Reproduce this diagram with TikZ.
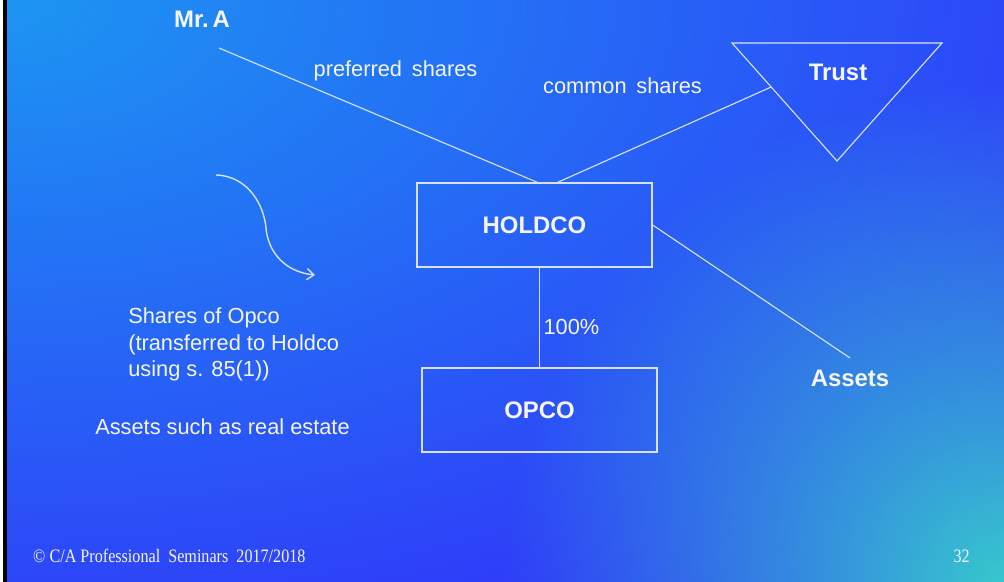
\documentclass[tikz,border=0pt]{standalone}
\usepackage{fontspec}
\setmainfont{Liberation Sans}
\newfontfamily\footfont{Liberation Serif}
\usetikzlibrary{arrows.meta,calc,fadings}

\definecolor{slideblue}{RGB}{50,46,250}
\definecolor{skyblue}{RGB}{28,150,242}
\definecolor{tealspot}{RGB}{55,200,205}
\definecolor{linewhite}{RGB}{215,225,255}
\definecolor{textwhite}{RGB}{245,245,255}

\tikzfading[name=spotfade, inner color=transparent!0, outer color=transparent!100]

\tikzset{
  entity/.style={draw=linewhite, line width=0.8pt, minimum width=5.875cm, minimum height=2.1cm,
    font=\bfseries\fontsize{17}{20}\selectfont, text=textwhite},
  party/.style={font=\bfseries\fontsize{17}{20}\selectfont, text=textwhite, inner sep=0pt},
  caption/.style={font=\fontsize{15.5}{19}\selectfont, text=textwhite, inner sep=0pt},
  footer/.style={font=\footfont\fontsize{13.5}{16}\selectfont, text=textwhite, inner sep=0pt},
  link/.style={draw=linewhite, line width=0.8pt},
}

\begin{document}
\begin{tikzpicture}[x=0.025cm, y=-0.025cm]
  % background
  \fill[slideblue] (0,0) rectangle (1004,582);
  \begin{scope}
    \clip (0,0) rectangle (1004,582);
    \shade[inner color=skyblue, outer color=slideblue] (0,0) ellipse (1350 and 760);
    \fill[tealspot, path fading=spotfade] (1004,582) circle (500);
  \end{scope}
  \fill[white] (0,0) rectangle (2.5,582);
  \fill[black] (2.5,0) rectangle (6.5,582);
  \useasboundingbox (0,0) rectangle (1004,582);

  % parties
  \node[party] (mra) at (202,19) {Mr.\,A};
  \coordinate (mrafoot) at (219,48);

  \coordinate (trustleft) at (732,43);
  \coordinate (trustright) at (942,43);
  \coordinate (trustapex) at (837,161);
  \draw[link] (trustleft) -- (trustright) -- (trustapex) -- cycle;
  \node[party, anchor=base] (trust) at (838,81) {Trust};

  \node[party, anchor=base] (assets) at (850,387) {Assets};
  \coordinate (assetstop) at (850,358);

  % companies
  \node[entity] (holdco) at (534.5,225) {HOLDCO};
  \node[entity] (opco) at (539.5,410) {OPCO};

  % share links
  \draw[link] (mrafoot) -- ($(holdco.north)+(3,0)$);
  \draw[link] ($(holdco.north)+(23,0)$) -- ($(trustleft)!0.373!(trustapex)$);
  \draw[link] (holdco.east) -- (assetstop);
  \draw[link] (holdco.south -| opco.north) -- node[caption, pos=0.6, right=2.5pt] (pct) {100\%} (opco.north);

  \node[caption, anchor=base] (preferred) at (395.5,77) {preferred\hspace{0.45em}shares};
  \node[caption, anchor=base] (common) at (622.5,94) {common\hspace{0.45em}shares};

  % notes
  \coordinate (curlstart) at (216,175);
  \coordinate (curlend) at (315,275);
  \draw[link, line width=1pt, -{Straight Barb[length=5pt,width=8pt]}] (curlstart)
    .. controls (248,176) and (264,205) .. (266,228)
    .. controls (268,252) and (285,272) .. (curlend);

  \node[caption, anchor=base west, align=left] (sharesnote) at (128,377)
    {Shares of Opco\\(transferred to Holdco\\using s. 85(1))};
  \node[caption, anchor=base west] (assetsnote) at (95,435) {Assets such as real estate};

  % footer
  \node[footer, anchor=base west, xscale=0.85, transform shape] (copyright) at (33,562)
    {© C/A Professional\ \ Seminars\ \ 2017/2018};
  \node[footer, anchor=base east, xscale=0.85, transform shape] (slideno) at (970,562) {32};
\end{tikzpicture}
\end{document}
